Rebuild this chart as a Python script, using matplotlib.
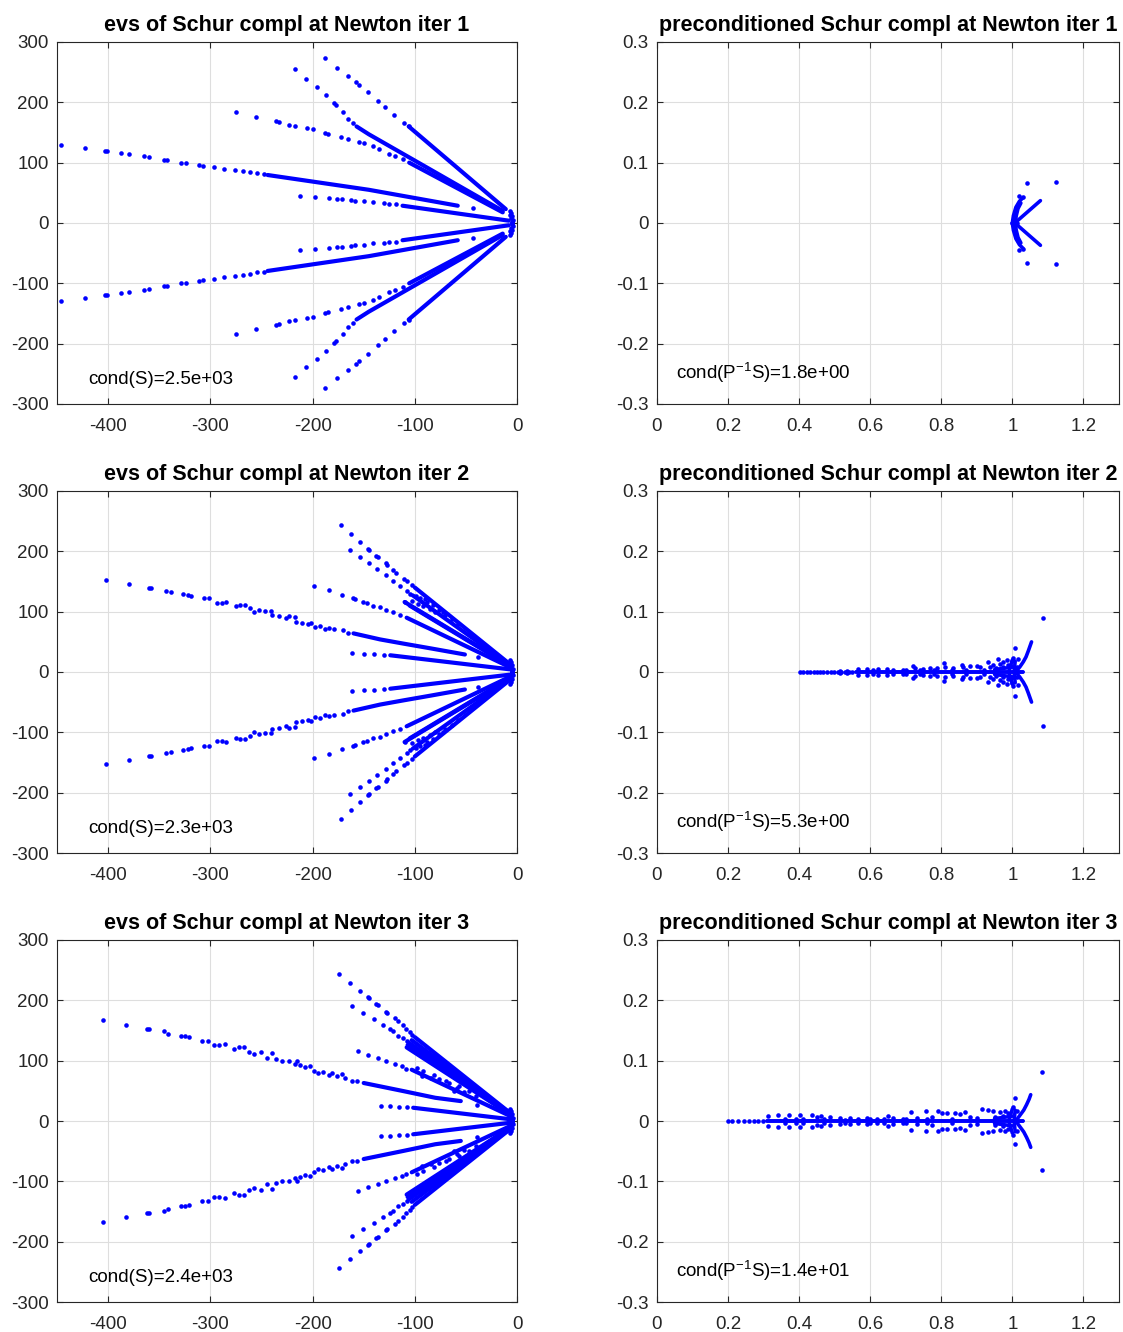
import numpy as np
import matplotlib.pyplot as plt

plt.rcParams['font.family'] = ['Liberation Sans', 'DejaVu Sans']
plt.rcParams['mathtext.fontset'] = 'custom'
plt.rcParams['mathtext.rm'] = 'Liberation Sans'
plt.rcParams['axes.unicode_minus'] = False

# ---------------------------------------------------------------------------
# Eigenvalues (upper half plane only; the spectra are
# conjugate-symmetric so each point is drawn at +imag and -imag).
# "pts" are isolated eigenvalues, "bands" are stretches so dense they merge.
# ---------------------------------------------------------------------------

# --- Newton iter 1, Schur complement ---
it1_pts = [
    # ray A
    (-188, 273), (-176, 257), (-165, 243), (-158, 233), (-155, 229), (-146, 217),
    (-136, 202), (-129, 192), (-120, 179), (-111, 166), (-106, 160),
    # ray B
    (-217, 256), (-206, 239), (-196, 225), (-187, 212), (-179, 199), (-177, 195),
    (-170, 184), (-165, 173), (-160, 165),
    # ray C
    (-275, 184), (-255, 176), (-236, 169), (-233, 168), (-223, 163), (-217, 161),
    (-205, 157), (-200, 155), (-188, 149), (-185, 148), (-172, 142.5), (-165, 140),
    (-155, 135), (-150, 132), (-141, 127.5), (-135, 122), (-125, 115), (-119, 111),
    (-112, 105.5),
    # ray D
    (-446, 130), (-423, 125), (-403, 119.5), (-401, 119), (-387, 115.6), (-380, 114),
    (-365, 110.6), (-360, 109), (-345, 105), (-342, 104), (-329, 100), (-324, 99),
    (-311, 96), (-307, 95), (-296, 92.5), (-287, 90), (-276, 87.5), (-268, 86),
    (-261, 84), (-254, 82), (-248, 80.5), (-43.5, 24.7),
    # ray E
    (-212, 45), (-198, 43.5), (-184, 41), (-176, 39.6), (-171, 39), (-162, 37.4),
    (-159, 37), (-150, 35.8), (-141, 34), (-130, 32.5), (-125, 32), (-118, 31),
    # cluster at the origin
    (-7, 20), (-6, 17), (-7, 14), (-5, 11), (-6, 8), (-4, 5), (-5, 2), (-5, 0),
]
it1_bands = [
    ([-106, -11], [160, 23]),
    ([-157, -145, -14], [160, 147, 20]),
    ([-105.5, -14], [100, 17.6]),
    ([-244, -145, -58], [79.5, 55, 28.6]),
    ([-112, -8], [28.6, 3.8]),
]

# --- Newton iter 2, Schur complement ---
it2_pts = [
    # ray A
    (-172.6, 243.8), (-162.5, 228.8), (-153.4, 215), (-145.6, 204), (-144.6, 202),
    (-137.5, 193), (-135.8, 190), (-128.3, 180), (-127, 178), (-121, 169),
    (-118, 164.5), (-110.7, 154), (-108, 151), (-103, 144.6),
    # ray B
    (-163.5, 202.8), (-153.7, 191), (-144.6, 180), (-136.8, 170), (-128, 160),
    (-121, 151), (-114.7, 143), (-108, 134.6), (-105, 130),
    # wedge between A/B
    (-109.6, 116), (-103, 118), (-97, 112), (-92, 110), (-85, 104), (-80, 99),
    (-95, 122), (-88, 116), (-76, 102), (-70, 95), (-99, 126), (-90, 121),
    (-82, 111), (-72, 100), (-64, 88), (-58, 80),
    # ray G
    (-198.4, 143), (-184, 135.7), (-171.7, 127.4), (-160, 122), (-158.6, 120.8),
    (-150.5, 116), (-147, 113.6), (-140.7, 109.7), (-134, 107), (-127.7, 102.5),
    (-121, 98.6), (-114.7, 94.7),
    # ray D
    (-402.4, 152.7), (-380, 145.6), (-360, 139.6), (-358, 139), (-343.7, 135),
    (-338.4, 133), (-327, 128.6), (-321.7, 127.5), (-319, 126.4), (-306, 122),
    (-301, 122), (-294, 115), (-288.7, 114.8), (-284.5, 115.4), (-274.8, 109),
    (-270.6, 111), (-266, 111), (-261, 106.6), (-257, 100), (-252, 103), (-247, 101),
    (-241, 101), (-240, 94.5), (-233, 93), (-226, 90), (-223, 93), (-217, 91),
    (-216, 83.5), (-210, 82), (-204.5, 79), (-201.7, 82), (-198, 74.7), (-193, 76),
    (-188, 72), (-184, 73.6), (-179, 71), (-170, 69), (-165, 65), (-38, 25),
    # ray E
    (-161, 32), (-150, 30.5), (-139.7, 29.4), (-130, 28.3),
    # cluster at the origin
    (-7, 20), (-6, 17), (-7, 14), (-5, 11), (-6, 8), (-4, 5), (-5, 2), (-5, 0),
]
it2_bands = [
    ([-100, -7], [140, 13]),
    ([-102, -7], [127, 12]),
    ([-110, -7], [116, 11]),
    ([-105, -7], [110, 10]),
    ([-108, -7], [90, 8]),
    ([-160, -134, -111, -84, -51], [64, 54, 47, 39, 29]),
    ([-124, -7], [27.7, 4.4]),
]

# --- Newton iter 3, Schur complement ---
it3_pts = [
    # ray A
    (-174, 243.5), (-163.5, 228.6), (-153.7, 216), (-145.6, 205), (-144.6, 204),
    (-137.5, 194), (-135.8, 191.7), (-128.3, 180.7), (-127, 178.5), (-119.5, 170.8),
    (-116.3, 166.4), (-112, 158.7), (-108.8, 153), (-105, 147.7), (-102.3, 143),
    # ray B
    (-161.2, 191), (-150.5, 179), (-140, 169), (-131.6, 159.8), (-124.4, 152.6),
    (-121, 148.8), (-116.3, 141.6), (-112, 137.7), (-108, 132),
    # ray G and its scatter
    (-156, 116.8), (-145.6, 110), (-136.5, 104.7), (-127.7, 100), (-119.5, 94.8),
    (-113, 91), (-108.8, 87), (-97.4, 88), (-92, 82.5), (-81.7, 77), (-69.6, 66),
    (-59, 55), (-52, 48.4), (-92.5, 74.4), (-84.4, 70.5), (-76, 68.9), (-66.4, 63.4),
    (-56.7, 57.9), (-47, 49.6), (-40, 42), (-62, 50),
    # ray D
    (-405, 167), (-382.6, 159.6), (-362.4, 153), (-360, 152), (-345, 148.6),
    (-341, 145), (-328.7, 141.4), (-325, 141), (-321, 138.7), (-307.8, 133),
    (-302.6, 133), (-296.3, 126.6), (-291.5, 125.5), (-286, 127.7), (-276.5, 120),
    (-272, 122), (-266.8, 122), (-262.6, 114.5), (-257.4, 111), (-250, 114.5),
    (-245, 104.6), (-240, 112.8), (-235.5, 103), (-229.6, 99), (-222.6, 100),
    (-217, 94.7), (-215.7, 100), (-212, 92.5), (-207, 89), (-202.4, 90.8),
    (-199, 83.7), (-194.8, 79.8), (-189.6, 81.5), (-184, 77), (-181, 79.8),
    (-175.7, 74.3), (-171, 78), (-168.7, 71.5), (-161.7, 67), (-156.5, 66),
    (-38.8, 26.4),
    # ray E
    (-132.6, 24.8), (-123.8, 24.2), (-115, 23.7), (-108, 22.6),
    # cluster at the origin
    (-7, 20), (-6, 17), (-7, 14), (-5, 11), (-6, 8), (-4, 5), (-5, 2), (-5, 0),
]
it3_bands = [
    ([-100, -5], [139, 11]),
    ([-103, -5], [134, 10.5]),
    ([-106, -5], [130, 10]),
    ([-107, -5], [126, 9.5]),
    ([-108, -5], [122, 9]),
    ([-95, -5], [116, 8]),
    ([-85, -5], [106, 8]),
    ([-103, -5], [85, 7]),
    ([-150, -111, -80, -55], [63, 49.5, 38.5, 33]),
    ([-101.6, -6], [22, 2.8]),
]

# --- preconditioned Schur complements ---
pre1_real = [0.998, 1.003, 1.008, 1.012]
pre1_pts = [(1.042, 0.0665), (1.124, 0.0676), (1.018, 0.045), (1.030, 0.0425)]
pre1_bands = [
    ([1.011, 1.079], [0.002, 0.037]),
    ([1.000, 1.003, 1.010, 1.020, 1.030], [0.0, 0.012, 0.026, 0.036, 0.042]),
    ([1.008, 1.011, 1.016, 1.024], [0.0, 0.012, 0.024, 0.033]),
]

pre2_real = [0.402, 0.411, 0.421, 0.43, 0.441, 0.449, 0.46, 0.468, 0.479, 0.49,
             0.499, 0.51, 0.519, 0.53, 0.541, 0.55]
pre2_pts = [
    (1.087, 0.0888), (1.0075, 0.0395), (0.5146, 0.0022), (0.535, 0.0022),
    (0.566, 0.0049), (0.590, 0.0049), (0.608, 0.0038), (0.6225, 0.0044),
    (0.646, 0.0044), (0.665, 0.0033), (0.693, 0.0033), (0.721, 0.0104),
    (0.726, 0.0066), (0.749, 0.0044), (0.768, 0.006), (0.787, 0.0066),
    (0.8075, 0.0148), (0.81, 0.0088), (0.834, 0.0066), (0.857, 0.012),
    (0.862, 0.0077), (0.881, 0.0099), (0.8995, 0.0104), (0.909, 0.0077),
    (0.932, 0.0159), (0.937, 0.0077), (0.9465, 0.012), (0.9605, 0.0214),
    (0.965, 0.0132), (0.9747, 0.0159), (0.984, 0.0197), (0.989, 0.012),
    (0.998, 0.0175), (1.003, 0.024), (1.017, 0.0214), (1.012, 0.008),
    (0.70, 0.0025), (0.74, 0.003), (0.78, 0.0035), (0.83, 0.003), (0.87, 0.004),
    (0.92, 0.004), (0.955, 0.006), (0.975, 0.008), (0.995, 0.01),
]
pre2_bands = [
    ([0.56, 1.03], [0.0, 0.0]),
    ([1.012, 1.0215, 1.031, 1.0385, 1.045, 1.050, 1.054],
     [0.002, 0.0088, 0.017, 0.025, 0.035, 0.0433, 0.0499]),
    ([0.99, 1.0], [0.0, 0.02]),
    ([1.005, 1.008], [0.0, 0.018]),
    ([0.95, 1.0], [0.004, 0.008]),
]

pre3_real = [0.199, 0.21, 0.228, 0.245, 0.26, 0.272, 0.285, 0.298]
pre3_pts = [
    (1.0845, 0.0807), (1.0075, 0.0376), (0.3127, 0.0077), (0.341, 0.0094),
    (0.371, 0.0105), (0.402, 0.0105), (0.411, 0.0033), (0.435, 0.0094),
    (0.449, 0.0072), (0.463, 0.0083), (0.486, 0.0061), (0.5146, 0.005),
    (0.543, 0.005), (0.566, 0.0039), (0.590, 0.005), (0.618, 0.0039),
    (0.651, 0.0088), (0.665, 0.005), (0.693, 0.0028), (0.716, 0.0144),
    (0.7305, 0.005), (0.756, 0.016), (0.773, 0.006), (0.7897, 0.016),
    (0.801, 0.0138), (0.815, 0.0127), (0.8385, 0.0133), (0.8526, 0.0116),
    (0.8667, 0.0144), (0.881, 0.006), (0.9136, 0.0199), (0.9324, 0.0182),
    (0.9465, 0.0171), (0.965, 0.0149), (0.979, 0.016), (0.989, 0.0127),
    (1.003, 0.0227), (1.012, 0.016), (0.36, 0.004), (0.39, 0.003),
    (0.47, 0.003), (0.53, 0.0025), (0.60, 0.003), (0.64, 0.0035), (0.70, 0.004),
    (0.76, 0.003), (0.83, 0.004), (0.90, 0.005), (0.95, 0.007), (0.975, 0.009),
]
pre3_bands = [
    ([0.31, 1.03], [0.0, 0.0]),
    ([1.012, 1.022, 1.032, 1.040, 1.047, 1.0517],
     [0.002, 0.010, 0.018, 0.027, 0.036, 0.0436]),
    ([0.99, 1.0], [0.0, 0.02]),
    ([1.005, 1.008], [0.0, 0.018]),
    ([0.95, 1.0], [0.004, 0.008]),
]

cond_S = ["2.5e+03", "2.3e+03", "2.4e+03"]
cond_PS = ["1.8e+00", "5.3e+00", "1.4e+01"]

BLUE = "#0000ff"
GRID = "#dedede"
AXC = "#262626"
FS = 13.5
TFS = 15.5


def draw_spectrum(ax, pts, bands, real=None, lw=3.0):
    x = np.array([p[0] for p in pts])
    y = np.array([p[1] for p in pts])
    for s in (1, -1):
        ax.plot(x, s * y, "o", ms=3.3, mew=0, color=BLUE, zorder=3)
        for bx, by in bands:
            ax.plot(bx, s * np.array(by), "-", lw=lw, color=BLUE,
                    solid_capstyle="round", zorder=3)
    if real is not None:
        ax.plot(real, np.zeros(len(real)), "o", ms=3.3, mew=0, color=BLUE, zorder=3)


def style(ax, xt, xl, yt, yl):
    ax.set_xticks(xt)
    ax.set_xticklabels(xl)
    ax.set_yticks(yt)
    ax.set_yticklabels(yl)
    ax.grid(True, color=GRID, lw=0.8)
    ax.set_axisbelow(True)
    ax.tick_params(direction="in", top=True, right=True, length=4, width=0.8,
                   colors=AXC, labelsize=FS)
    ax.tick_params(axis="x", pad=10)
    ax.tick_params(axis="y", pad=6)
    for sp in ax.spines.values():
        sp.set_color(AXC)
        sp.set_linewidth(0.8)


fig = plt.figure(figsize=(11.23, 13.32), dpi=100)
bottoms = [0.6967, 0.3596, 0.0225]
spectra = [(it1_pts, it1_bands), (it2_pts, it2_bands), (it3_pts, it3_bands)]
pre = [(pre1_pts, pre1_bands, pre1_real), (pre2_pts, pre2_bands, pre2_real),
       (pre3_pts, pre3_bands, pre3_real)]

for i in range(3):
    ax = fig.add_axes([0.0508, bottoms[i], 0.4096, 0.2718])
    draw_spectrum(ax, *spectra[i])
    ax.set_xlim(-450, 0)
    ax.set_ylim(-300, 300)
    style(ax, [-400, -300, -200, -100, 0], ["-400", "-300", "-200", "-100", "0"],
          [-300, -200, -100, 0, 100, 200, 300],
          ["-300", "-200", "-100", "0", "100", "200", "300"])
    ax.set_title(f"evs of Schur compl at Newton iter {i + 1}", fontsize=TFS,
                 fontweight="bold", pad=8)
    ax.text(0.067, 0.055, f"cond(S)={cond_S[i]}", transform=ax.transAxes,
            fontsize=FS, va="baseline", color="black")

    ax = fig.add_axes([0.585, bottoms[i], 0.4114, 0.2718])
    draw_spectrum(ax, *pre[i], lw=2.6)
    ax.set_xlim(0, 1.3)
    ax.set_ylim(-0.3, 0.3)
    style(ax, [0, 0.2, 0.4, 0.6, 0.8, 1.0, 1.2],
          ["0", "0.2", "0.4", "0.6", "0.8", "1", "1.2"],
          [-0.3, -0.2, -0.1, 0, 0.1, 0.2, 0.3],
          ["-0.3", "-0.2", "-0.1", "0", "0.1", "0.2", "0.3"])
    ax.set_title(f"preconditioned Schur compl at Newton iter {i + 1}",
                 fontsize=TFS, fontweight="bold", pad=8)
    ax.text(0.041, 0.069, "cond(P$^{\\mathrm{-1}}$S)=" + cond_PS[i],
            transform=ax.transAxes, fontsize=FS, va="baseline", color="black")

fig.savefig("out.png", dpi=100)
